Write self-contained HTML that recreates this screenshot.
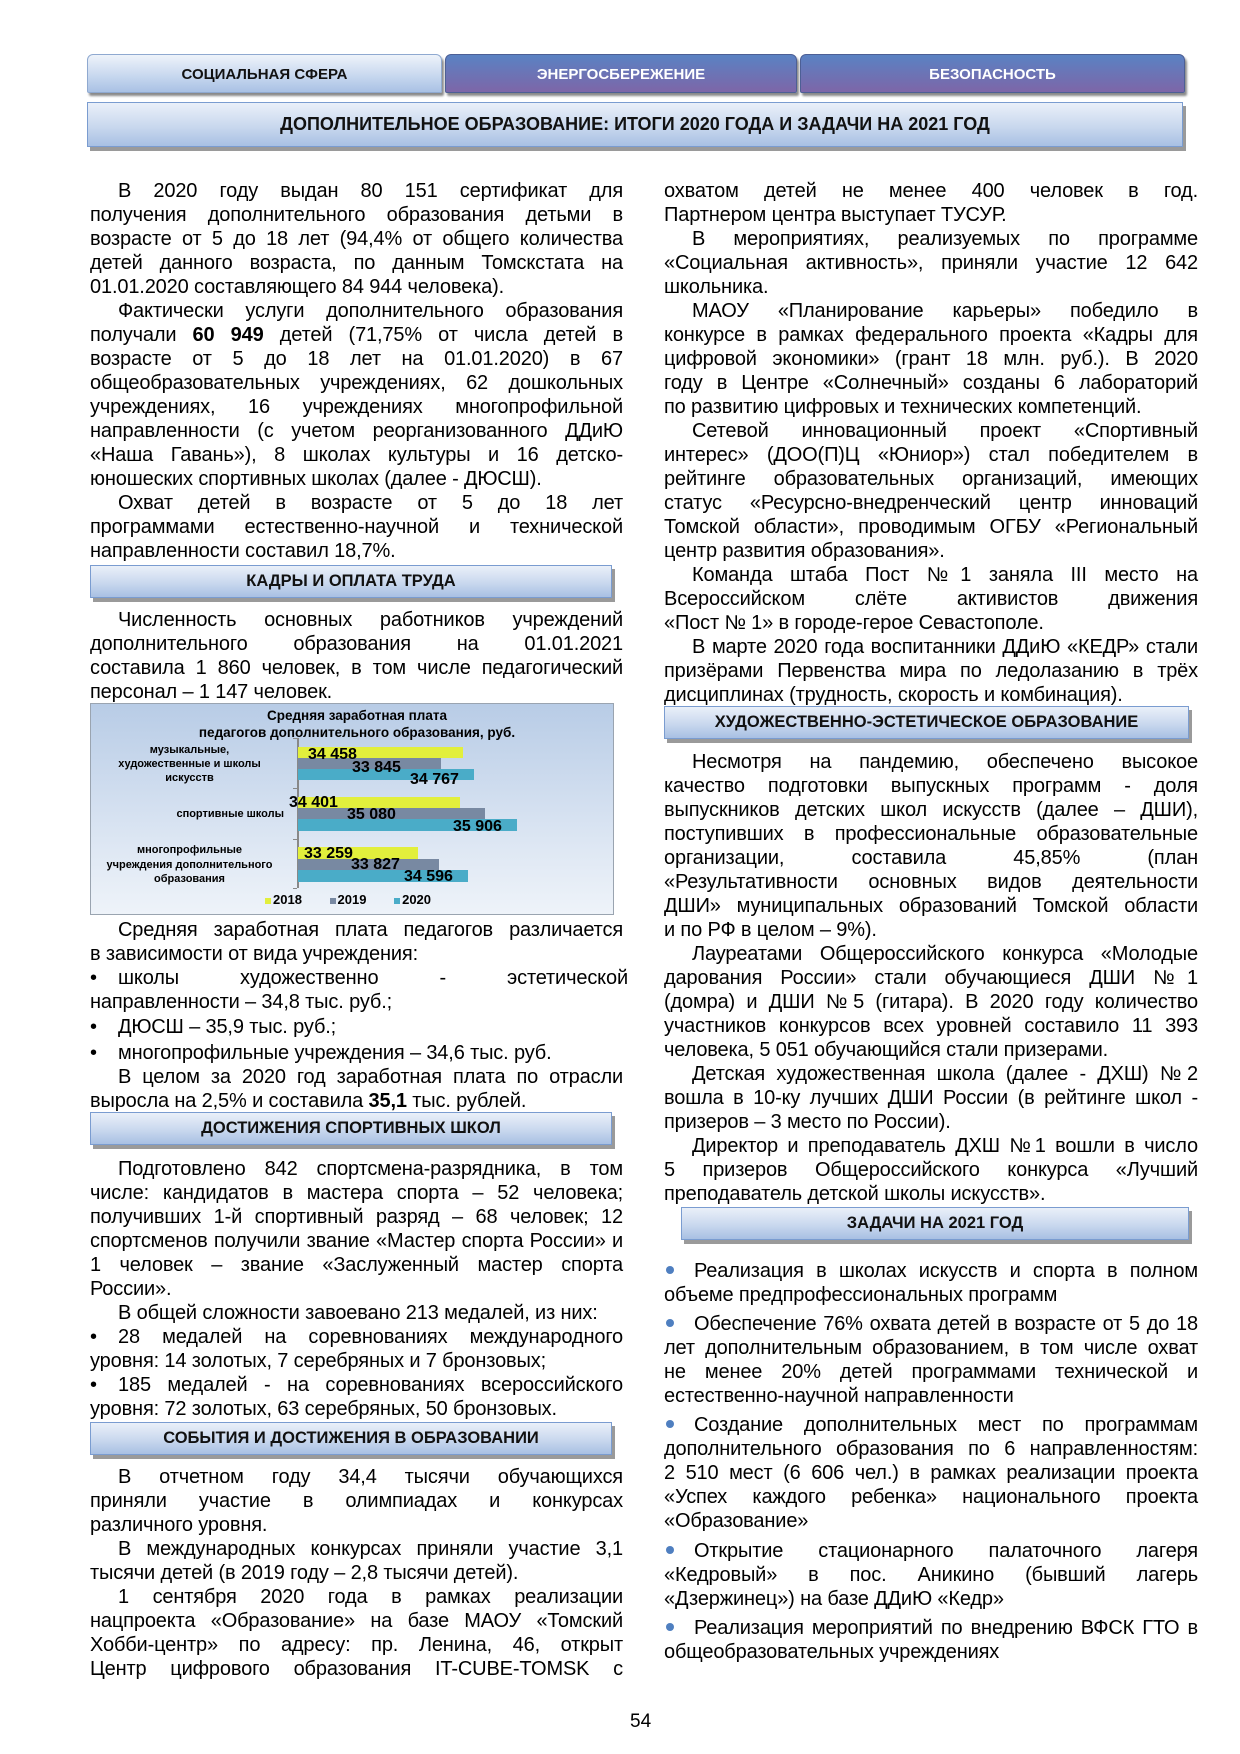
<!DOCTYPE html>
<html><head><meta charset="utf-8"><style>
*{margin:0;padding:0;box-sizing:border-box}
body{width:1240px;height:1754px;background:#fff;position:relative;overflow:hidden;font-family:"Liberation Sans",Arial,sans-serif;color:#000}
.tab{position:absolute;top:54px;height:39px;border-radius:6px 6px 2px 2px;font-weight:bold;font-size:15px;text-align:center;line-height:39px;box-shadow:2px 3px 2px #8a8a8a}
.t1{left:87px;width:355px;background:linear-gradient(#eef3fa,#c5d6ee 60%,#a9c1e4);border:1px solid #8fa9d0;color:#111}
.t2{left:445px;width:352px;background:linear-gradient(#5a82c3,#7d66a8);border:1px solid #4d5f95;color:#fff}
.t3{left:800px;width:385px;background:linear-gradient(#5a82c3,#7d66a8);border:1px solid #4d5f95;color:#fff}
.bar{position:absolute;background:linear-gradient(#eaf0f9,#c9d8ee 55%,#a8c0e3);border:1px solid #7a9cd0;box-shadow:3px 4px 0 #9a9a9a;font-weight:bold;text-align:center;color:#111}
.h{height:33px;line-height:31px;font-size:16.5px}
.c{position:absolute;font-size:20px;line-height:24px;letter-spacing:-0.15px}
.c div{text-align:justify;text-align-last:justify;white-space:nowrap;height:24px}
.c div.l{text-align-last:left}
.c div.i{text-indent:28px}
.b{display:inline-block;width:28px;text-indent:0}
.bd{display:inline-block;width:8px;height:8px;border-radius:50%;background:#4f7fc0;margin:0 20px 3px 2px;vertical-align:middle}
.vl span{position:absolute;white-space:nowrap}
</style></head><body>

<div class="tab t1">СОЦИАЛЬНАЯ СФЕРА</div>
<div class="tab t2">ЭНЕРГОСБЕРЕЖЕНИЕ</div>
<div class="tab t3">БЕЗОПАСНОСТЬ</div>
<div class="bar" style="left:87px;top:102px;width:1096px;height:45px;line-height:43px;font-size:18px">ДОПОЛНИТЕЛЬНОЕ ОБРАЗОВАНИЕ: ИТОГИ 2020 ГОДА И ЗАДАЧИ НА 2021 ГОД</div>

<div class="c" style="left:90px;top:179px;width:533px">
<div class="i">В 2020 году выдан 80 151 сертификат для</div>
<div>получения дополнительного образования детьми в</div>
<div>возрасте от 5 до 18 лет (94,4% от общего количества</div>
<div>детей данного возраста, по данным Томскстата на</div>
<div class="l">01.01.2020 составляющего 84 944 человека).</div>
<div class="i">Фактически услуги дополнительного образования</div>
<div>получали <b>60 949</b> детей (71,75% от числа детей в</div>
<div>возрасте от 5 до 18 лет на 01.01.2020) в 67</div>
<div>общеобразовательных учреждениях, 62 дошкольных</div>
<div>учреждениях, 16 учреждениях многопрофильной</div>
<div>направленности (с учетом реорганизованного ДДиЮ</div>
<div>«Наша Гавань»), 8 школах культуры и 16 детско-</div>
<div class="l">юношеских спортивных школах (далее - ДЮСШ).</div>
<div class="i">Охват детей в возрасте от 5 до 18 лет</div>
<div>программами естественно-научной и технической</div>
<div class="l">направленности составил 18,7%.</div>
</div>

<div class="bar h" style="left:90px;top:565px;width:522px">КАДРЫ И ОПЛАТА ТРУДА</div>

<div class="c" style="left:90px;top:608px;width:533px">
<div class="i">Численность основных работников учреждений</div>
<div>дополнительного образования на 01.01.2021</div>
<div>составила 1 860 человек, в том числе педагогический</div>
<div class="l">персонал – 1 147 человек.</div>
</div>

<div style="position:absolute;left:90px;top:703px;width:524px;height:212px;border:1.5px solid #9aa4b0;background:linear-gradient(#b8cce6,#dfe8f4 70%,#eef3f9)"></div>
<div style="position:absolute;left:90px;top:707px;width:524px;font-weight:bold;font-size:13.5px;line-height:17px;text-align:center;padding-left:10px">Средняя заработная плата<br>педагогов дополнительного образования, руб.</div>
<div style="position:absolute;left:297px;top:738px;width:1.5px;height:150px;background:#888"></div>
<div style="position:absolute;left:293px;top:738px;width:4px;height:1px;background:#888"></div>
<div style="position:absolute;left:293px;top:788px;width:4px;height:1px;background:#888"></div>
<div style="position:absolute;left:293px;top:839px;width:4px;height:1px;background:#888"></div>
<div style="position:absolute;left:293px;top:888px;width:4px;height:1px;background:#888"></div>
<div style="position:absolute;left:298px;top:747px;width:165px;height:11px;background:#e2ef3c"></div>
<div style="position:absolute;left:298px;top:758px;width:143px;height:11px;background:#7889a2"></div>
<div style="position:absolute;left:298px;top:769px;width:176px;height:11px;background:#4aacc8"></div>
<div style="position:absolute;left:298px;top:797px;width:162px;height:11px;background:#e2ef3c"></div>
<div style="position:absolute;left:298px;top:808px;width:187px;height:11px;background:#7889a2"></div>
<div style="position:absolute;left:298px;top:819px;width:219px;height:12px;background:#4aacc8"></div>
<div style="position:absolute;left:298px;top:847px;width:120px;height:12px;background:#e2ef3c"></div>
<div style="position:absolute;left:298px;top:859px;width:141px;height:11px;background:#7889a2"></div>
<div style="position:absolute;left:298px;top:870px;width:170px;height:12px;background:#4aacc8"></div>
<div class="vl" style="position:absolute;font-weight:bold;font-size:16px;line-height:16px;left:0;top:0;width:1240px">
<span style="left:308px;top:747px">34 458</span>
<span style="left:352px;top:760px">33 845</span>
<span style="left:410px;top:772px">34 767</span>
<span style="left:289px;top:795px">34 401</span>
<span style="left:347px;top:807px">35 080</span>
<span style="left:453px;top:819px">35 906</span>
<span style="left:304px;top:846px">33 259</span>
<span style="left:351px;top:857px">33 827</span>
<span style="left:404px;top:869px">34 596</span>
</div>
<div style="position:absolute;left:95px;width:189px;top:743px;font-weight:bold;font-size:11px;line-height:14px;text-align:center">музыкальные,<br>художественные и школы<br>искусств</div>
<div style="position:absolute;left:95px;width:189px;top:807px;font-weight:bold;font-size:11px;line-height:14px;text-align:right">спортивные школы</div>
<div style="position:absolute;left:95px;width:189px;top:843px;font-weight:bold;font-size:11px;line-height:14.5px;text-align:center">многопрофильные<br>учреждения дополнительного<br>образования</div>
<div style="position:absolute;top:892px;left:265px;width:250px;font-weight:bold;font-size:13px;line-height:15px;white-space:nowrap">
<span style="display:inline-block;width:6px;height:6px;background:#e2ef3c;margin-right:2px"></span>2018
<span style="display:inline-block;width:6px;height:6px;background:#7889a2;margin:0 2px 0 24px"></span>2019
<span style="display:inline-block;width:6px;height:6px;background:#4aacc8;margin:0 2px 0 24px"></span>2020</div>

<div class="c" style="left:90px;top:918px;width:533px">
<div class="i">Средняя заработная плата педагогов различается</div>
<div class="l">в зависимости от вида учреждения:</div>
<div style="width:538px"><span class="b">•</span>школы художественно - эстетической</div>
<div class="l">направленности – 34,8 тыс. руб.;</div>
<div class="l" style="margin-top:1px"><span class="b">•</span>ДЮСШ – 35,9 тыс. руб.;</div>
<div class="l" style="margin-top:2px"><span class="b">•</span>многопрофильные учреждения – 34,6 тыс. руб.</div>
<div class="i">В целом за 2020 год заработная плата по отрасли</div>
<div class="l">выросла на 2,5% и составила <b>35,1</b> тыс. рублей.</div>
</div>

<div class="bar h" style="left:90px;top:1112px;width:522px">ДОСТИЖЕНИЯ СПОРТИВНЫХ ШКОЛ</div>

<div class="c" style="left:90px;top:1157px;width:533px">
<div class="i">Подготовлено 842 спортсмена-разрядника, в том</div>
<div>числе: кандидатов в мастера спорта – 52 человека;</div>
<div>получивших 1-й спортивный разряд – 68 человек; 12</div>
<div>спортсменов получили звание «Мастер спорта России» и</div>
<div>1 человек – звание «Заслуженный мастер спорта</div>
<div class="l">России».</div>
<div class="i l">В общей сложности завоевано 213 медалей, из них:</div>
<div><span class="b">•</span>28 медалей на соревнованиях международного</div>
<div class="l">уровня: 14 золотых, 7 серебряных и 7 бронзовых;</div>
<div><span class="b">•</span>185 медалей - на соревнованиях всероссийского</div>
<div class="l">уровня: 72 золотых, 63 серебряных, 50 бронзовых.</div>
</div>

<div class="bar h" style="left:90px;top:1422px;width:522px">СОБЫТИЯ И ДОСТИЖЕНИЯ В ОБРАЗОВАНИИ</div>

<div class="c" style="left:90px;top:1465px;width:533px">
<div class="i">В отчетном году 34,4 тысячи обучающихся</div>
<div>приняли участие в олимпиадах и конкурсах</div>
<div class="l">различного уровня.</div>
<div class="i">В международных конкурсах приняли участие 3,1</div>
<div class="l">тысячи детей (в 2019 году – 2,8 тысячи детей).</div>
<div class="i">1 сентября 2020 года в рамках реализации</div>
<div>нацпроекта «Образование» на базе МАОУ «Томский</div>
<div>Хобби-центр» по адресу: пр. Ленина, 46, открыт</div>
<div>Центр цифрового образования IT-CUBE-TOMSK с</div>
</div>

<div class="c" style="left:664px;top:179px;width:534px">
<div>охватом детей не менее 400 человек в год.</div>
<div class="l">Партнером центра выступает ТУСУР.</div>
<div class="i">В мероприятиях, реализуемых по программе</div>
<div>«Социальная активность», приняли участие 12 642</div>
<div class="l">школьника.</div>
<div class="i">МАОУ «Планирование карьеры» победило в</div>
<div>конкурсе в рамках федерального проекта «Кадры для</div>
<div>цифровой экономики» (грант 18 млн. руб.). В 2020</div>
<div>году в Центре «Солнечный» созданы 6 лабораторий</div>
<div class="l">по развитию цифровых и технических компетенций.</div>
<div class="i">Сетевой инновационный проект «Спортивный</div>
<div>интерес» (ДОО(П)Ц «Юниор») стал победителем в</div>
<div>рейтинге образовательных организаций, имеющих</div>
<div>статус «Ресурсно-внедренческий центр инноваций</div>
<div>Томской области», проводимым ОГБУ «Региональный</div>
<div class="l">центр развития образования».</div>
<div class="i">Команда штаба Пост №1 заняла III место на</div>
<div>Всероссийском слёте активистов движения</div>
<div class="l">«Пост № 1» в городе-герое Севастополе.</div>
<div class="i">В марте 2020 года воспитанники ДДиЮ «КЕДР» стали</div>
<div>призёрами Первенства мира по ледолазанию в трёх</div>
<div class="l">дисциплинах (трудность, скорость и комбинация).</div>
</div>

<div class="bar h" style="left:664px;top:706px;width:525px">ХУДОЖЕСТВЕННО-ЭСТЕТИЧЕСКОЕ ОБРАЗОВАНИЕ</div>

<div class="c" style="left:664px;top:750px;width:534px">
<div class="i">Несмотря на пандемию, обеспечено высокое</div>
<div>качество подготовки выпускных программ - доля</div>
<div>выпускников детских школ искусств (далее – ДШИ),</div>
<div>поступивших в профессиональные образовательные</div>
<div>организации, составила 45,85% (план</div>
<div>«Результативности основных видов деятельности</div>
<div>ДШИ» муниципальных образований Томской области</div>
<div class="l">и по РФ в целом – 9%).</div>
<div class="i">Лауреатами Общероссийского конкурса «Молодые</div>
<div>дарования России» стали обучающиеся ДШИ №1</div>
<div>(домра) и ДШИ №5 (гитара). В 2020 году количество</div>
<div>участников конкурсов всех уровней составило 11 393</div>
<div class="l">человека, 5 051 обучающийся стали призерами.</div>
<div class="i">Детская художественная школа (далее - ДХШ) №2</div>
<div>вошла в 10-ку лучших ДШИ России (в рейтинге школ -</div>
<div class="l">призеров – 3 место по России).</div>
<div class="i">Директор и преподаватель ДХШ №1 вошли в число</div>
<div>5 призеров Общероссийского конкурса «Лучший</div>
<div class="l">преподаватель детской школы искусств».</div>
</div>

<div class="bar h" style="left:681px;top:1207px;width:508px">ЗАДАЧИ НА 2021 ГОД</div>

<div class="c" style="left:664px;top:1259px;width:534px">
<div><span class="bd"></span>Реализация в школах искусств и спорта в полном</div>
<div class="l">объеме предпрофессиональных программ</div>
</div>
<div class="c" style="left:664px;top:1312px;width:534px">
<div><span class="bd"></span>Обеспечение 76% охвата детей в возрасте от 5 до 18</div>
<div>лет дополнительным образованием, в том числе охват</div>
<div>не менее 20% детей программами технической и</div>
<div class="l">естественно-научной направленности</div>
</div>
<div class="c" style="left:664px;top:1413px;width:534px">
<div><span class="bd"></span>Создание дополнительных мест по программам</div>
<div>дополнительного образования по 6 направленностям:</div>
<div>2 510 мест (6 606 чел.) в рамках реализации проекта</div>
<div>«Успех каждого ребенка» национального проекта</div>
<div class="l">«Образование»</div>
</div>
<div class="c" style="left:664px;top:1539px;width:534px">
<div><span class="bd"></span>Открытие стационарного палаточного лагеря</div>
<div>«Кедровый» в пос. Аникино (бывший лагерь</div>
<div class="l">«Дзержинец») на базе ДДиЮ «Кедр»</div>
</div>
<div class="c" style="left:664px;top:1616px;width:534px">
<div><span class="bd"></span>Реализация мероприятий по внедрению ВФСК ГТО в</div>
<div class="l">общеобразовательных учреждениях</div>
</div>

<div style="position:absolute;left:630px;top:1711px;font-size:19px">54</div>
</body></html>
